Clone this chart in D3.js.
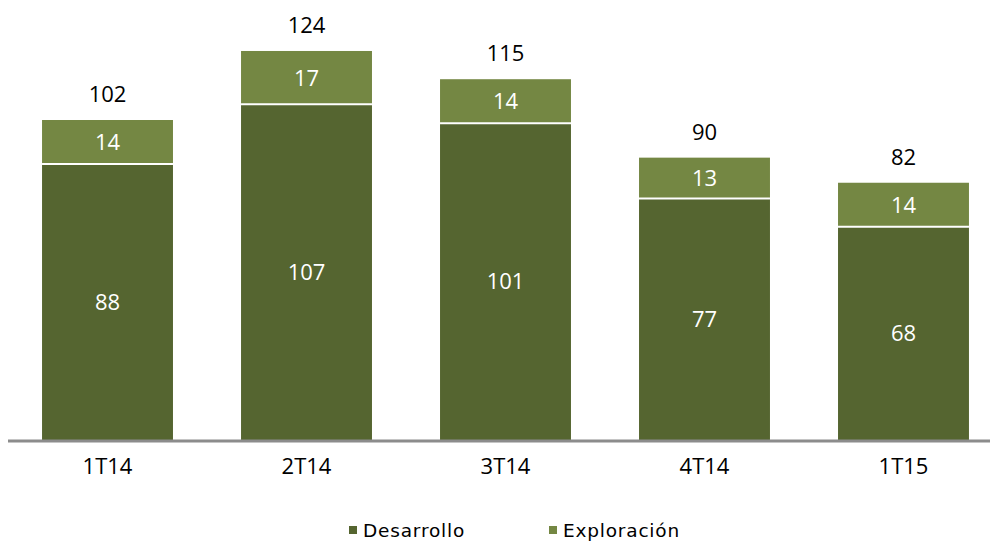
<!DOCTYPE html>
<html><head><meta charset="utf-8">
<script src="https://cdn.jsdelivr.net/npm/d3@7"></script>
<style>body{margin:0;background:#fff}svg{display:block}</style>
</head><body>
<svg id="c" width="990" height="542"></svg>
<script>
const categories = ["1T14","2T14","3T14","4T14","1T15"];
const desarrollo = [88,107,101,77,68];
const exploracion = [14,17,14,13,14];
const totals = [102,124,115,90,82];
const seriesNames = ["Desarrollo","Exploración"];
const colors = ["#556530","#748743"];

const svg = d3.select("#c");
const font = "'Open Sans', sans-serif";
const lfont = "'DejaVu Sans', sans-serif";
const x = d3.scaleBand().domain(categories).range([10,1001]).paddingInner(0.342).paddingOuter(0.161);
const y = d3.scaleLinear().domain([0,140.25]).range([440,0]);

const data = categories.map((c,i)=>({c, d:desarrollo[i], e:exploracion[i], t:totals[i]}));
const stack = d3.stack().keys(["d","e"])(data);

stack.forEach((layer,li)=>{
  svg.append("g").selectAll("rect").data(layer).join("rect")
    .attr("x",d=>x(d.data.c)).attr("width",x.bandwidth())
    .attr("y",d=>y(d[1])).attr("height",d=>y(d[0])-y(d[1]))
    .attr("fill",colors[li]);
});
svg.append("g").selectAll("line").data(data).join("line")
  .attr("x1",d=>x(d.c)).attr("x2",d=>x(d.c)+x.bandwidth())
  .attr("y1",d=>y(d.d)).attr("y2",d=>y(d.d))
  .attr("stroke","#fff").attr("stroke-width",2);

stack.forEach((layer,li)=>{
  svg.append("g").selectAll("text").data(layer).join("text")
    .attr("x",d=>x(d.data.c)+x.bandwidth()/2)
    .attr("y",d=>(y(d[0])+y(d[1]))/2)
    .attr("dy","0.36em").attr("text-anchor","middle")
    .attr("fill","#fff").attr("font-family",font).attr("font-size",22)
    .text(d=>d[1]-d[0]);
});
svg.append("g").selectAll("text").data(data).join("text")
  .attr("x",d=>x(d.c)+x.bandwidth()/2)
  .attr("y",d=>y(d.t)-26)
  .attr("dy","0.36em").attr("text-anchor","middle")
  .attr("fill","#000").attr("font-family",font).attr("font-size",22)
  .text(d=>d.t);

const ax = svg.append("g").attr("transform","translate(0,441)")
  .call(d3.axisBottom(x).tickSize(0).tickPadding(17));
ax.select(".domain").remove();
ax.append("line").attr("x1",8).attr("x2",990).attr("stroke","#8c8c8c").attr("stroke-width",3);
ax.selectAll("text").attr("font-family",font).attr("font-size",22).attr("fill","#000");

const lx = [349,549];
const lg = svg.append("g").selectAll("g").data(seriesNames).join("g")
  .attr("transform",(d,i)=>`translate(${lx[i]},526)`);
lg.append("rect").attr("x",0).attr("y",0).attr("width",8).attr("height",8).attr("fill",(d,i)=>colors[i]);
lg.append("text").attr("x",14).attr("y",11)
  .attr("font-family",lfont).attr("font-size",18.5).attr("letter-spacing",0.8)
  .attr("fill","#000").text(d=>d);
</script>
</body></html>
